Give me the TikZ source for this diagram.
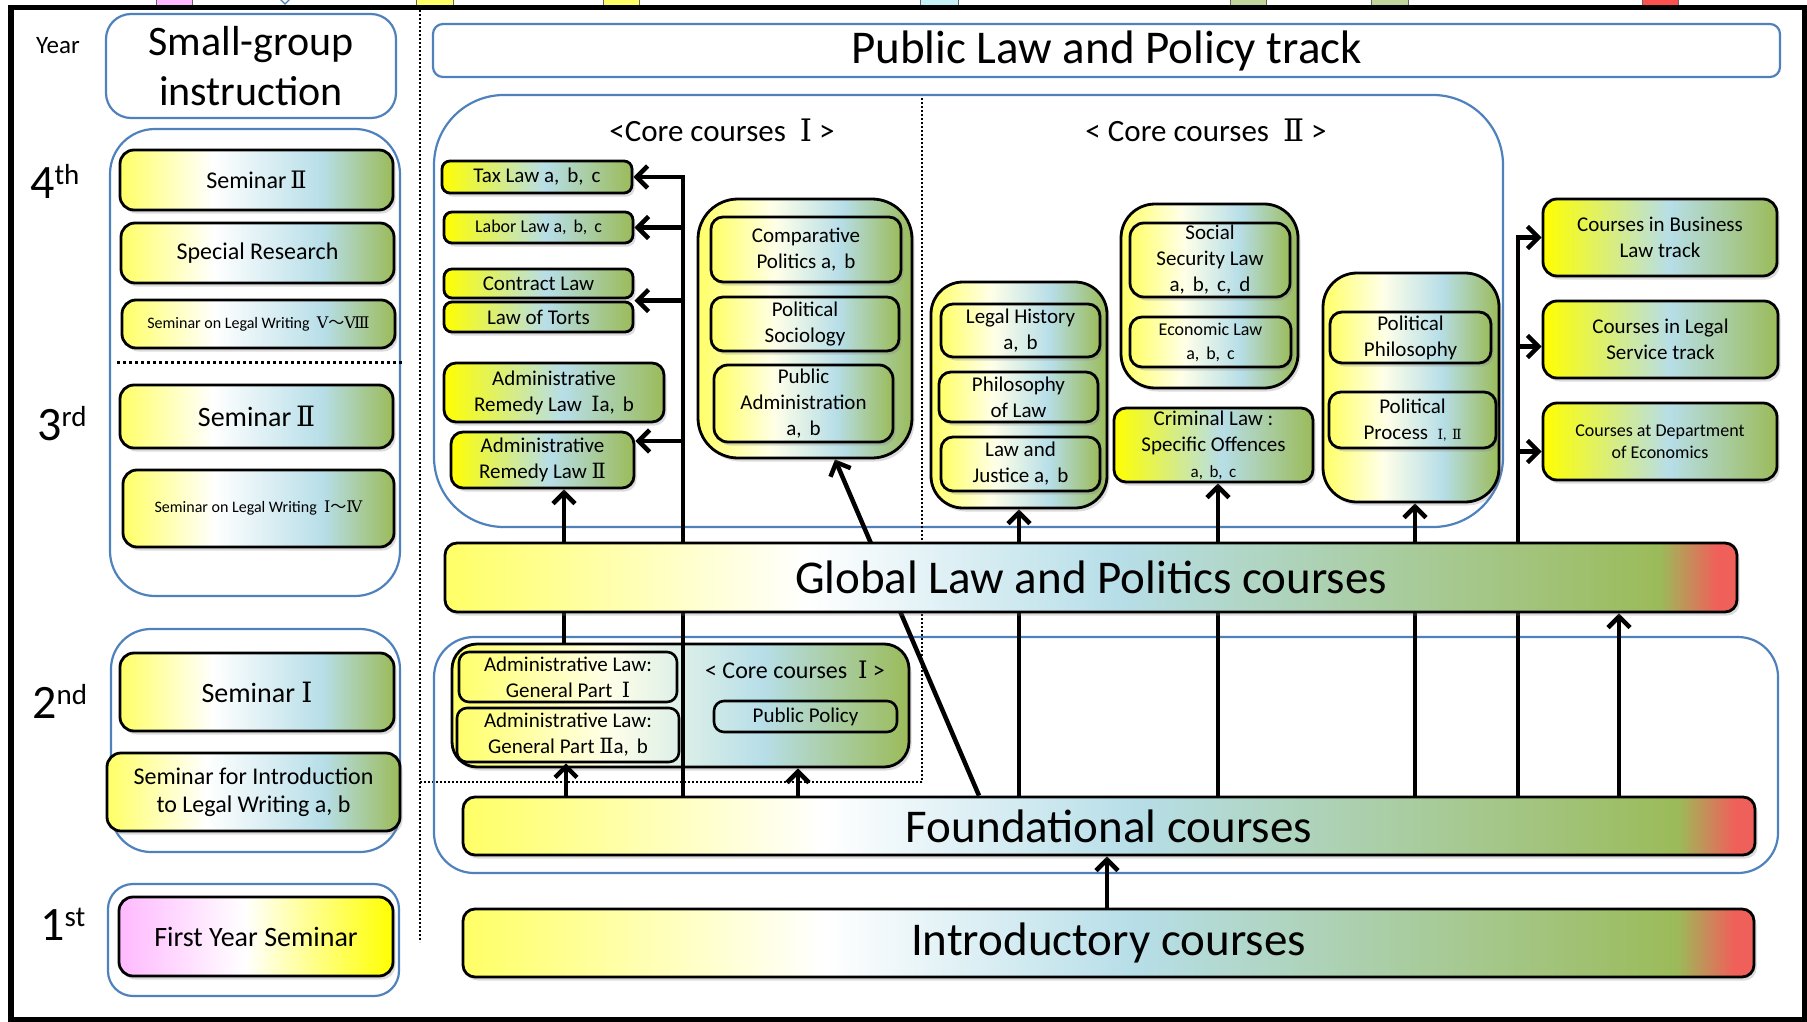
\documentclass[tikz,border=0pt]{standalone}
\usepackage{fontspec}
\setmainfont{Carlito}
\newfontfamily\cjk{Noto Sans CJK JP}
\newfontfamily\rnfont{DejaVu Serif}
\usetikzlibrary{arrows.meta,shadows,calc}
\pgfdeclarelayer{back}
\pgfdeclarelayer{mid}
\pgfsetlayers{back,mid,main}
\definecolor{cY}{HTML}{FFFF66}
\definecolor{cYY}{HTML}{FFFF00}
\definecolor{cLB}{HTML}{B7DEE8}
\definecolor{cG}{HTML}{9BBB59}
\definecolor{cR}{HTML}{F0605A}
\definecolor{cPk}{HTML}{FFB9FF}
\definecolor{cBl}{HTML}{4F81BD}
\definecolor{cPY}{HTML}{FFFFE8}
\definecolor{cCy}{HTML}{C6F2F8}
\definecolor{cGr}{HTML}{C3D69B}
\definecolor{cRd}{HTML}{FF5050}
\pgfdeclarehorizontalshading{semgrad}{100bp}{color(0bp)=(cY); color(25bp)=(cY); color(42bp)=(white); color(62bp)=(cLB); color(75bp)=(cG); color(100bp)=(cG)}
\pgfdeclarehorizontalshading{coursegrad}{100bp}{color(0bp)=(cYY); color(25bp)=(cYY); color(52bp)=(cLB); color(75bp)=(cG); color(100bp)=(cG)}
\pgfdeclarehorizontalshading{groupgrad}{100bp}{color(0bp)=(cY); color(25bp)=(cY); color(42bp)=(cPY); color(59bp)=(cLB); color(75bp)=(cG); color(100bp)=(cG)}
\pgfdeclarehorizontalshading{pinkgrad}{100bp}{color(0bp)=(cPk); color(25bp)=(cPk); color(48bp)=(white); color(75bp)=(cYY); color(100bp)=(cYY)}
\pgfdeclarehorizontalshading{bargrad}{100bp}{color(0bp)=(cY); color(25bp)=(cY); color(39bp)=(white); color(51bp)=(cLB); color(72bp)=(cG); color(74.2bp)=(cR); color(75bp)=(cR); color(100bp)=(cR)}
\newcommand\rnI{{\rnfont Ⅰ}}
\newcommand\rnII{{\rnfont Ⅱ}}
\newcommand\rnIV{{\rnfont Ⅳ}}
\newcommand\rnV{{\rnfont Ⅴ}}
\newcommand\rnVIII{{\rnfont Ⅷ}}
\newcommand\fti{{\cjk ～}}
\newcommand\fcm{,\hspace{0.38em}}
\newcommand\bx[7]{%
  \pgfmathsetmacro\bxcx{(#3+#5)/2}\pgfmathsetmacro\bxcy{(#4+#6)/2}%
  \pgfmathsetmacro\bxw{#5-#3}\pgfmathsetmacro\bxh{#6-#4}%
  \node[#1, minimum width=\bxw pt, minimum height=\bxh pt] (#2) at (\bxcx,\bxcy) {#7};}
\begin{document}
\begin{tikzpicture}[x=1pt,y=-1pt,
  blueout/.style={draw=cBl, line width=2.2, inner sep=0pt, align=center},
  basebox/.style={draw=black, line width=2.8, align=center, inner sep=0pt, text=black,
     font=\fontsize{21}{26}\selectfont,
     drop shadow={opacity=0.28, shadow xshift=2.5pt, shadow yshift=-3.5pt}},
  sbox/.style={basebox, shade, shading=semgrad, rounded corners=14},
  pbox/.style={basebox, shade, shading=pinkgrad, rounded corners=14},
  cbox/.style={basebox, shade, shading=coursegrad, rounded corners=8},
  gbox/.style={basebox, shade, shading=groupgrad},
  bar/.style={basebox, shade, shading=bargrad, rounded corners=12, font=\fontsize{47}{50}\selectfont},
  tbox/.style={draw=black, line width=2.6, rounded corners=10, inner sep=0pt, align=center, font=\fontsize{21}{26}\selectfont},
  ordn/.style={anchor=base west, inner sep=0pt, font=\fontsize{48}{48}\selectfont},
  dotline/.style={line width=3, dash pattern=on 3pt off 3pt},
  vdot/.style={line width=2.5, dash pattern=on 2pt off 2pt},
  arr/.style={line width=4.5, -{Straight Barb[length=11pt,width=22pt]}},
]
\useasboundingbox (0,0) rectangle (1807,1022);
% fragments at the top edge
\foreach \xa/\xb/\col in {156/192/cPk,416/453/cY,603/639/cY,920/958/cCy,1230/1266/cGr,1371/1408/cGr,1642/1678/cRd}
  \draw[line width=0.8, draw=black!60, fill=\col] (\xa,-3) rectangle (\xb,6);
\draw[cBl, line width=1.2] (279,-2) -- (285,4) -- (291,-2);
% frame
\draw[line width=5.5] (11,7.5) rectangle (1804.5,1019.5);

\begin{pgfonlayer}{back}
  \bx{blueout, rounded corners=45}{b4}{110}{129}{400}{596}{}
  \bx{blueout, rounded corners=40}{b2}{111}{629}{400}{852}{}
  \bx{blueout, rounded corners=25}{b1}{108}{884}{399}{996}{}
  \draw[dotline] (117,362) -- (403,362);
  \draw[vdot] (420,10) -- (420,942);
  \bx{blueout, rounded corners=70}{core}{434}{95}{1503}{527}{}
  \draw[vdot] (922,98) -- (922,782);
  \draw[vdot] (420,782) -- (922,782);
  \bx{blueout, rounded corners=40}{b2r}{434}{637}{1778}{873}{}
  \bx{gbox, rounded corners=25}{g2}{452}{644}{909}{767}{}
  \bx{tbox}{al1}{459}{652}{677}{702}{Administrative Law:\\General Part\ \ \rnI}
  \bx{tbox}{al2}{457}{708}{679}{762}{Administrative Law:\\General Part\ \rnII a\fcm b}
  \node[font=\fontsize{24}{24}\selectfont, inner sep=0pt] (t3) at (795,670) {< Core courses\ \ \rnI\ >};
  \bx{tbox}{pubpol}{714}{701}{897}{732}{Public Policy}
\end{pgfonlayer}

% left column
\node[font=\fontsize{25}{30}\selectfont, inner sep=0pt] (year) at (58,46) {Year};
\bx{blueout, rounded corners=25, font=\fontsize{42}{50}\selectfont}{sg}{106}{14}{396}{118}{Small-group\\instruction}
\node[ordn] (o4) at (30,198) {4\raisebox{14pt}{\fontsize{29}{29}\selectfont th}};
\node[ordn] (o3) at (37,440) {3\raisebox{14pt}{\fontsize{29}{29}\selectfont rd}};
\node[ordn] (o2) at (32,718) {2\raisebox{14pt}{\fontsize{29}{29}\selectfont nd}};
\node[ordn] (o1) at (40,940) {1\raisebox{14pt}{\fontsize{29}{29}\selectfont st}};
\bx{sbox, font=\fontsize{24}{28}\selectfont}{s4a}{120}{150}{393}{210}{Seminar\,\rnII}
\bx{sbox, font=\fontsize{24}{28}\selectfont}{s4b}{121}{223}{394}{283}{Special Research}
\bx{sbox, font=\fontsize{16}{20}\selectfont}{s4c}{122}{300}{395}{348}{Seminar on Legal Writing\ \ \rnV\fti\rnVIII}
\bx{sbox, font=\fontsize{28}{32}\selectfont}{s3a}{120}{385}{393}{448}{Seminar\,\rnII}
\bx{sbox, font=\fontsize{16}{20}\selectfont}{s3b}{123}{470}{394}{547}{Seminar on Legal Writing\ \ \rnI\fti\rnIV}
\bx{sbox, font=\fontsize{28}{32}\selectfont}{s2a}{120}{653}{394}{731}{Seminar\ \rnI}
\bx{sbox, font=\fontsize{24}{28}\selectfont}{s2b}{107}{753}{400}{831}{Seminar for Introduction\\to Legal Writing a, b}
\bx{pbox, font=\fontsize{28}{32}\selectfont}{s1}{119}{897}{393}{976}{First Year Seminar}

% right part
\bx{blueout, rounded corners=10, font=\fontsize{47}{50}\selectfont}{plp}{433}{24}{1780}{77}{Public Law and Policy track}
\node[font=\fontsize{31}{31}\selectfont, inner sep=0pt] (t1) at (722,130) {<Core courses\ \ \rnI\ >};
\node[font=\fontsize{31}{31}\selectfont, inner sep=0pt] (t2) at (1206,130) {< Core courses\ \ \rnII\ >};

\bx{cbox}{tax}{442}{161}{632}{193}{Tax Law a\fcm b\fcm c}
\bx{cbox, font=\fontsize{18}{22}\selectfont}{labor}{444}{212}{633}{243}{Labor Law a\fcm b\fcm c}
\bx{cbox}{contract}{444}{269}{633}{298}{Contract Law}
\bx{cbox}{torts}{444}{302}{633}{332}{Law of Torts}
\bx{cbox, rounded corners=12}{arl1}{444}{363}{664}{422}{Administrative\\Remedy Law\ \ \rnI a\fcm b}
\bx{cbox, rounded corners=12}{arl2}{451}{432}{634}{488}{Administrative\\Remedy Law\ \rnII}

\bx{gbox, rounded corners=40}{cpg}{698}{199}{912}{458}{}
\bx{gbox, rounded corners=12}{cp}{711}{217}{901}{282}{Comparative\\Politics a\fcm b}
\bx{gbox, rounded corners=12}{ps}{711}{297}{899}{351}{Political\\Sociology}
\bx{gbox, rounded corners=14}{pa}{714}{365}{893}{442}{Public\\Administration\\a\fcm b}

\bx{gbox, rounded corners=32}{lhg}{931}{282}{1107}{508}{}
\bx{gbox, rounded corners=12}{lh}{941}{304}{1100}{357}{Legal History\\a\fcm b}
\bx{gbox, rounded corners=12}{pl}{939}{372}{1098}{422}{Philosophy\\of Law}
\bx{gbox, rounded corners=12}{lj}{941}{437}{1100}{491}{Law and\\Justice a\fcm b}

\bx{gbox, rounded corners=34}{ssg}{1121}{204}{1298}{388}{}
\bx{gbox, rounded corners=14}{ssl}{1130}{223}{1290}{297}{Social\\Security Law\\a\fcm b\fcm c\fcm d}
\bx{gbox, rounded corners=12, font=\fontsize{18}{24}\selectfont}{el}{1130}{317}{1291}{367}{Economic Law\\a\fcm b\fcm c}
\bx{cbox, rounded corners=12}{crim}{1114}{408}{1313}{482}{Criminal Law :\\Specific Offences\\{\fontsize{17}{20}\selectfont a\fcm b\fcm c}}

\bx{gbox, rounded corners=34}{polg}{1323}{273}{1499}{502}{}
\bx{gbox, rounded corners=12}{pp}{1330}{312}{1491}{363}{Political\\Philosophy}
\bx{gbox, rounded corners=12}{ppr}{1329}{392}{1496}{448}{Political\\Process\ \ {\fontsize{14}{14}\selectfont\rnI\fcm\rnII}}

\bx{cbox, rounded corners=14}{cb}{1543}{199}{1777}{276}{Courses in Business\\Law track}
\bx{cbox, rounded corners=14}{cls}{1543}{301}{1778}{378}{Courses in Legal\\Service track}
\bx{cbox, rounded corners=14, font=\fontsize{18}{22}\selectfont}{ce}{1543}{403}{1777}{480}{Courses at Department\\of Economics}

\bx{bar}{glob}{445}{543}{1737}{612}{Global Law and Politics courses}
\bx{bar}{found}{463}{797}{1755}{855}{Foundational courses}
\bx{bar}{intro}{463}{909}{1754}{977}{Introductory courses}

% connectors
\coordinate (cA) at (566,0);
\coordinate (cB) at (798,0);
\coordinate (cC) at (564,0);
\coordinate (busL) at (683,177);
\coordinate (cD) at (979,0);
\coordinate (cE) at (835,0);
\coordinate (cG) at (1218,0);
\coordinate (cH) at (1415,0);
\coordinate (busR) at (1518,0);
\coordinate (cI) at (1619,0);
\coordinate (cJ) at (1107,0);
\coordinate (r2) at ($(arl2.east)+(0,-19)$);
\coordinate (r3) at ($(cls.west)+(0,7)$);
\coordinate (r4) at ($(ce.west)+(0,10)$);
\begin{pgfonlayer}{mid}
  \draw[arr] (found.north -| cA) -- (al2.south -| cA);
  \draw[arr] (found.north -| cB) -- (g2.south -| cB);
  \draw[arr] (g2.north -| cC) -- (arl2.south -| cC);
  \draw[arr] (found.north -| busL) |- (tax.east);
  \draw[arr] (labor.east -| busL) -- (labor.east);
  \draw[arr] (torts.north east -| busL) -- (torts.north east);
  \draw[arr] (r2 -| busL) -- (r2);
  \draw[arr] (found.north -| cD) -- (cpg.south -| cE);
  \draw[arr] (found.north -| lhg.south) -- (lhg.south);
  \draw[arr] (found.north -| cG) -- (crim.south -| cG);
  \draw[arr] (found.north -| cH) -- (polg.south -| cH);
  \draw[arr] (found.north -| busR) |- (cb.west);
  \draw[arr] (r3 -| busR) -- (r3);
  \draw[arr] (r4 -| busR) -- (r4);
  \draw[arr] (found.north -| cI) -- (glob.south -| cI);
  \draw[arr] (intro.north -| cJ) -- (found.south -| cJ);
\end{pgfonlayer}
\end{tikzpicture}
\end{document}
